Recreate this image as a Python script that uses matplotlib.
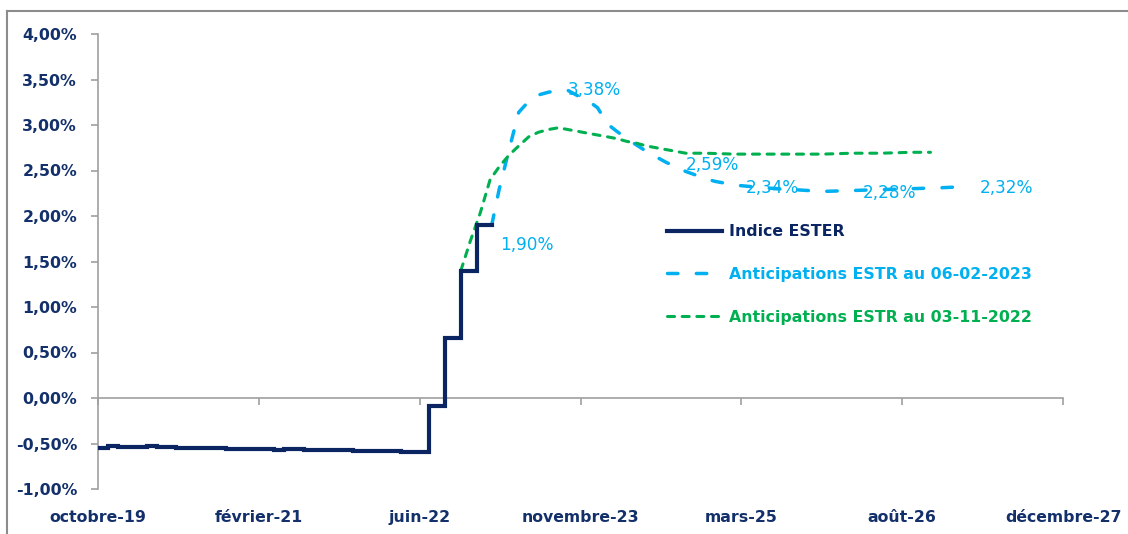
import pandas as pd
import matplotlib.pyplot as plt
from matplotlib.lines import Line2D

plt.rcParams['font.family'] = 'DejaVu Sans'

# Indice ESTER (monthly fixings, then the ECB hikes)
ester_dates = ['2019-10-01', '2019-11-01', '2019-12-01', '2020-01-01', '2020-02-01', '2020-03-01',
               '2020-04-01', '2020-05-01', '2020-06-01', '2020-07-01', '2020-08-01', '2020-09-01',
               '2020-10-01', '2020-11-01', '2020-12-01', '2021-01-01', '2021-02-01', '2021-03-01',
               '2021-04-01', '2021-05-01', '2021-06-01', '2021-07-01', '2021-08-01', '2021-09-01',
               '2021-10-01', '2021-11-01', '2021-12-01', '2022-01-01', '2022-02-01', '2022-03-01',
               '2022-04-01', '2022-05-01', '2022-06-01', '2022-07-01', '2022-07-27', '2022-09-14',
               '2022-11-02', '2022-12-21', '2023-02-06']
ester_values = [-0.55, -0.53, -0.54, -0.54, -0.54, -0.53,
                -0.54, -0.54, -0.55, -0.55, -0.55, -0.55,
                -0.55, -0.56, -0.56, -0.56, -0.56, -0.56,
                -0.57, -0.56, -0.56, -0.57, -0.57, -0.57,
                -0.57, -0.57, -0.58, -0.58, -0.58, -0.58,
                -0.58, -0.59, -0.59, -0.59, -0.09, 0.66,
                1.40, 1.90, 1.90]

# Anticipations au 06-02-2023
antic_feb_dates = ['2023-02-06', '2023-03-01', '2023-04-01', '2023-05-01', '2023-06-01', '2023-07-01',
                   '2023-08-01', '2023-09-01', '2023-10-01', '2023-11-01', '2023-12-01', '2024-01-01',
                   '2024-02-01', '2024-03-01', '2024-04-01', '2024-05-01', '2024-06-01', '2024-07-01',
                   '2024-08-01', '2024-09-01', '2024-10-01', '2024-11-01', '2024-12-01', '2025-01-01',
                   '2025-02-01', '2025-03-01', '2025-06-01', '2025-09-01', '2025-12-01', '2026-03-01',
                   '2026-06-01', '2026-09-01', '2026-12-01', '2027-02-01']
antic_feb_values = [1.90, 2.29, 2.73, 3.14, 3.26, 3.33,
                    3.36, 3.38, 3.38, 3.32, 3.27, 3.19,
                    3.01, 2.93, 2.85, 2.78, 2.71, 2.65,
                    2.59, 2.54, 2.49, 2.45, 2.41, 2.38,
                    2.36, 2.34, 2.31, 2.29, 2.27, 2.28,
                    2.29, 2.30, 2.31, 2.32]

# Anticipations au 03-11-2022
antic_nov_dates = ['2022-11-02', '2022-12-01', '2023-01-01', '2023-02-01', '2023-03-01', '2023-04-01',
                   '2023-05-01', '2023-06-01', '2023-07-01', '2023-08-01', '2023-09-01', '2023-10-01',
                   '2023-11-01', '2023-12-01', '2024-01-01', '2024-02-01', '2024-03-01', '2024-04-01',
                   '2024-05-01', '2024-06-01', '2024-07-01', '2024-08-01', '2024-09-01', '2024-10-01',
                   '2024-12-01', '2025-03-01', '2025-06-01', '2025-09-01', '2025-12-01', '2026-03-01',
                   '2026-06-01', '2026-09-01', '2026-11-01']
antic_nov_values = [1.40, 1.72, 2.03, 2.40, 2.54, 2.67,
                    2.77, 2.87, 2.92, 2.95, 2.97, 2.95,
                    2.93, 2.91, 2.89, 2.87, 2.85, 2.82,
                    2.80, 2.77, 2.75, 2.73, 2.71, 2.69,
                    2.69, 2.68, 2.68, 2.68, 2.68, 2.69,
                    2.69, 2.70, 2.70]

# labelled points of the 06-02-2023 curve, with label offsets in points
label_dates = ['2023-02-06', '2023-09-01', '2024-08-01', '2025-03-01', '2026-03-01', '2027-02-01']
label_offsets = [(6, -14), (7, 0), (14, -2), (8, -2), (8, -2), (14, -1)]

x_ticklabels = ['octobre-19', 'février-21', 'juin-22', 'novembre-23', 'mars-25', 'août-26', 'décembre-27']

navy = '#0b2563'
blue = '#00b0f0'
green = '#00b050'
grey = '#a0a0a0'
text_navy = '#13306b'

fig = plt.figure(figsize=(11.28, 5.34), dpi=100)
ax = fig.add_axes([98 / 1128, 1 - 489 / 534, 965 / 1128, 455 / 534])

ester = pd.Series(ester_values, index=pd.to_datetime(ester_dates))
antic_feb = pd.Series(antic_feb_values, index=pd.to_datetime(antic_feb_dates))
antic_nov = pd.Series(antic_nov_values, index=pd.to_datetime(antic_nov_dates))

ax.plot(ester.index, ester.values, color=navy, lw=3, drawstyle='steps-post',
        solid_joinstyle='miter', label='Indice ESTER', zorder=3)
ax.plot(antic_feb.index, antic_feb.values, color=blue, lw=2.5, dashes=(3, 5.3),
        dash_capstyle='round', label='Anticipations ESTR au 06-02-2023', zorder=2)
ax.plot(antic_nov.index, antic_nov.values, color=green, lw=2.2, dashes=(2.3, 2.5),
        dash_capstyle='round', label='Anticipations ESTR au 03-11-2022', zorder=2)

for d, off in zip(label_dates, label_offsets):
    d = pd.Timestamp(d)
    v = antic_feb[d]
    ax.annotate(f'{v:.2f}%'.replace('.', ','), (d, v), xytext=off, textcoords='offset points',
                ha='left', va='center', color=blue, fontsize=12.2)

# axes: 500-day date ticks starting october 2019
start = pd.Timestamp('2019-10-01')
ticks = [start + pd.Timedelta(days=500 * i) for i in range(len(x_ticklabels))]
ax.set_xlim(ticks[0], ticks[-1])
ax.set_ylim(-1, 4)
ax.set_xticks(ticks)
ax.set_xticklabels(x_ticklabels)
ax.set_yticks([i * 0.5 for i in range(-2, 9)])
ax.yaxis.set_major_formatter(plt.FuncFormatter(lambda v, p: f'{v:.2f}%'.replace('.', ',')))

for s in ['top', 'right']:
    ax.spines[s].set_visible(False)
ax.spines['bottom'].set_position(('data', 0))
for s in ['left', 'bottom']:
    ax.spines[s].set_color(grey)
    ax.spines[s].set_linewidth(1.2)
ax.tick_params(axis='both', color=grey, width=1.2, length=5, labelcolor=text_navy, labelsize=11.3)
ax.tick_params(axis='y', pad=10)
ax.tick_params(axis='x', pad=75.5)
for t in ax.get_xticklabels() + ax.get_yticklabels():
    t.set_fontweight('bold')

leg = ax.legend(loc='upper left', bbox_to_anchor=(667 / 1128, 1 - 224 / 534), bbox_transform=fig.transFigure,
                frameon=False, handlelength=3.5, handletextpad=0.45, labelspacing=1.78,
                borderpad=0, borderaxespad=0, labelcolor=[navy, blue, green], prop={'weight': 'bold', 'size': 11.3})

# chart frame
fig.add_artist(Line2D([7 / 1128, 7 / 1128], [0, 1 - 11 / 534], color='#8c8c8c', lw=1.5, transform=fig.transFigure))
fig.add_artist(Line2D([7 / 1128, 1], [1 - 11 / 534, 1 - 11 / 534], color='#8c8c8c', lw=1.5, transform=fig.transFigure))

fig.savefig('out.png', dpi=100)
